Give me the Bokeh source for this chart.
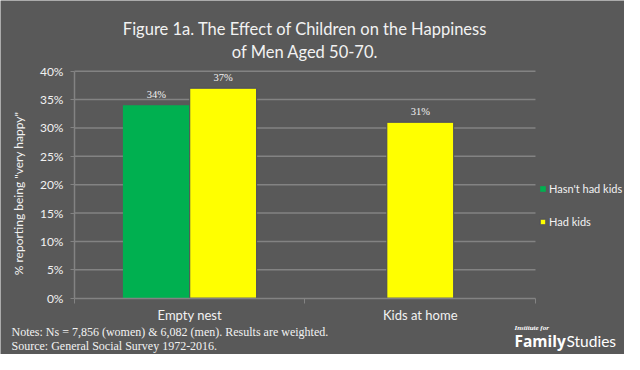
from bokeh.plotting import figure
from bokeh.models import (Range1d, FixedTicker, Label, Legend, LegendItem,
                          ColumnDataSource, LabelSet, CustomJSTickFormatter)
from bokeh.embed import file_html
from bokeh.resources import INLINE

# ---- data ----
categories = ["Empty nest", "Kids at home"]
hasnt_had_kids = [34, None]
had_kids = [37, 31]
y_ticks = [0, 5, 10, 15, 20, 25, 30, 35, 40]
title_lines = ["Figure 1a. The Effect of Children on the Happiness", "of Men Aged 50-70."]
notes_lines = ["Notes: Ns = 7,856 (women) & 6,082 (men). Results are weighted.",
               "Source: General Social Survey 1972-2016."]

BG = "#595959"
TXT = "#f2f2f2"
GRID = "#838383"
FONT = "Lato"
GREEN = "#00B050"
YELLOW = "#FFFF00"

n = len(categories)
ymax = max(y_ticks)
# whole canvas is the frame; axes are pinned at x=0 / y=0
p = figure(width=624, height=354, output_backend="svg", toolbar_location=None,
           x_range=Range1d(-0.32104, 2.38612), y_range=Range1d(-9.9207, 52.458),
           min_border=0)
p.background_fill_color = BG
p.border_fill_color = BG
p.outline_line_color = None

# gridlines over the category span
p.xgrid.grid_line_color = None
p.ygrid.grid_line_color = None
gl = [t for t in y_ticks if t > 0]
p.segment(x0=[0] * len(gl), x1=[n] * len(gl), y0=gl, y1=gl,
          line_color=GRID, line_width=1.5)

# bar positions
bw = 0.29
g_x, g_y, g_lab = [], [], []
y_x, y_y, y_lab = [], [], []
for i, (a, b) in enumerate(zip(hasnt_had_kids, had_kids)):
    both = a is not None and b is not None
    if a is not None:
        g_x.append(i + 0.5 - (bw / 2 if both else 0)); g_y.append(a); g_lab.append(f"{a}%")
    if b is not None:
        y_x.append(i + 0.5 + (bw / 2 if both else 0)); y_y.append(b); y_lab.append(f"{b}%")

gsrc = ColumnDataSource(dict(x=g_x, top=g_y, lab=g_lab))
ysrc = ColumnDataSource(dict(x=y_x, top=y_y, lab=y_lab))

rg = p.vbar(x="x", top="top", width=bw, source=gsrc, fill_color=GREEN, line_color=None)
ry = p.vbar(x="x", top="top", width=bw, source=ysrc, fill_color=YELLOW,
            line_color="#4a4a5e", line_width=1)

for src in (gsrc, ysrc):
    p.add_layout(LabelSet(x="x", y="top", text="lab", source=src, text_align="center",
                          text_baseline="bottom", y_offset=5, text_color=TXT,
                          text_font=FONT, text_font_size="10.5px"))

# axes
ya = p.yaxis[0]
ya.fixed_location = 0
ya.bounds = (0, ymax)
ya.ticker = FixedTicker(ticks=y_ticks)
ya.formatter = CustomJSTickFormatter(code="return tick + '%'")
ya.axis_line_color = GRID
ya.axis_line_width = 1.5
ya.major_tick_line_color = GRID
ya.major_tick_out = 4
ya.major_tick_in = 0
ya.minor_tick_line_color = None
ya.major_label_text_color = TXT
ya.major_label_text_font = FONT
ya.major_label_text_font_size = "12px"
ya.major_label_standoff = 7

xa = p.xaxis[0]
xa.fixed_location = 0
xa.bounds = (0, n)
xa.ticker = FixedTicker(ticks=[i + 0.5 for i in range(n)], minor_ticks=list(range(n + 1)))
xa.major_label_overrides = {i + 0.5: c for i, c in enumerate(categories)}
xa.axis_line_color = GRID
xa.axis_line_width = 1.5
xa.major_tick_line_color = None
xa.minor_tick_line_color = GRID
xa.minor_tick_out = 5
xa.minor_tick_in = 0
xa.major_label_text_color = TXT
xa.major_label_text_font = FONT
xa.major_label_text_font_size = "13px"
xa.major_label_standoff = 3

# legend
legend = Legend(items=[LegendItem(label="Hasn't had kids", renderers=[rg]),
                       LegendItem(label="Had kids", renderers=[ry])],
                location=(539, 123), background_fill_alpha=0, border_line_color=None,
                label_text_color=TXT, label_text_font=FONT, label_text_font_size="11px",
                glyph_width=7, glyph_height=7, label_height=20, spacing=13,
                label_standoff=3, padding=0, margin=0)
p.add_layout(legend, "center")

def lab(x, y, t, **kw):
    d = dict(text_baseline="middle", text_color=TXT, text_font=FONT)
    d.update(kw)
    p.add_layout(Label(x=x, y=y, text=t, **d))

# title
for t, yy in zip(title_lines, [47.35, 43.3]):
    lab(1.0, yy, t, text_align="center", text_font_size="16.5px")

# y axis title
lab(-0.243, 18.45, '% reporting being "very happy"', angle=1.5708,
    text_align="center", text_font_size="12px")

# notes
for t, yy in zip(notes_lines, [-6.044, -8.335]):
    lab(-0.2733, yy, t, text_align="left", text_font="Liberation Serif", text_font_size="12px")

# logo
lab(1.9089, -5.339, "Institute for", text_align="left", text_color="white",
    text_font="Liberation Serif", text_font_style="bold italic", text_font_size="7px")
lab(1.9089, -7.454, "Family", text_align="left", text_color="white",
    text_font="Open Sans", text_font_style="bold", text_font_size="15.5px")
lab(2.1345, -7.454, "Studies", text_align="left", text_color="white",
    text_font="Lato", text_font_size="15.5px")

open("out.html", "w").write(file_html(p, INLINE))
